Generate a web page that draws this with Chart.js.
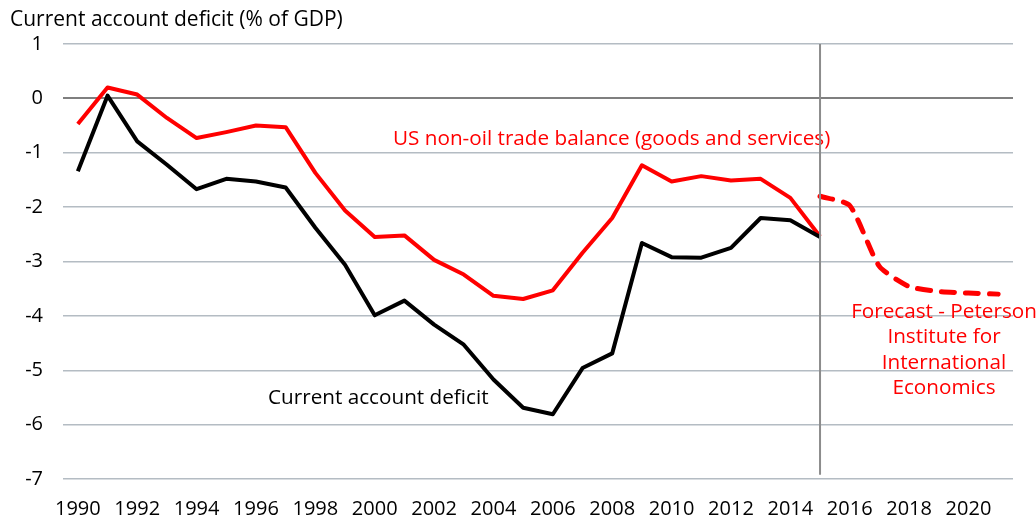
<!DOCTYPE html>
<html>
<head>
<meta charset="utf-8">
<script src="https://cdn.jsdelivr.net/npm/chart.js@4/dist/chart.umd.min.js"></script>
<style>
  html, body { margin: 0; padding: 0; background: #fff; }
  #wrap { width: 1036px; height: 517px; position: relative; }
</style>
</head>
<body>
<div id="wrap"><canvas id="chart"></canvas></div>
<script>
// DATA
const years = ['1990','1991','1992','1993','1994','1995','1996','1997','1998','1999',
  '2000','2001','2002','2003','2004','2005','2006','2007','2008','2009',
  '2010','2011','2012','2013','2014','2015','2016','2017','2018','2019','2020','2021'];

// US non-oil trade balance (goods and services), 1990-2015
const nonOilBalance = [-0.47, 0.20, 0.07, -0.36, -0.73, -0.62, -0.50, -0.53, -1.37, -2.06,
  -2.55, -2.52, -2.97, -3.24, -3.63, -3.69, -3.53, -2.84, -2.20, -1.23,
  -1.53, -1.43, -1.51, -1.48, -1.83, -2.54];

// Current account deficit, 1990-2015
const currentAccount = [-1.34, 0.05, -0.79, -1.22, -1.67, -1.48, -1.53, -1.64, -2.38, -3.06,
  -3.99, -3.72, -4.16, -4.53, -5.17, -5.69, -5.81, -4.96, -4.69, -2.66,
  -2.92, -2.93, -2.75, -2.20, -2.24, -2.55];

// Forecast (Peterson Institute), 2015-2021
const forecastYears = ['2015','2016','2017','2018','2019','2020','2021'];
const forecastValues = [-1.80, -1.97, -3.09, -3.46, -3.55, -3.58, -3.60];

// vertical marker at the start of the forecast
const markerYear = '2015';
const markerRange = [1, -6.92];

const yTicks = { min: -7, max: 1, step: 1 };

// build series on the full year axis
const pad = (arr, startIdx) => years.map((_, i) => {
  const j = i - startIdx;
  return j >= 0 && j < arr.length ? arr[j] : null;
});
const forecastSeries = pad(forecastValues, years.indexOf(forecastYears[0]));

const FONT = '"Open Sans", "Noto Sans", sans-serif';

const textPlugin = {
  id: 'texts',
  beforeDatasetsDraw(chart) {
    const ctx = chart.ctx;
    ctx.save();
    ctx.font = '20.7px ' + FONT;
    ctx.textBaseline = 'middle';
    ctx.textAlign = 'left';
    ctx.fillStyle = '#ff0000';
    ctx.fillText('US non-oil trade balance (goods and services)', 393, 139);
    ctx.fillStyle = '#000';
    ctx.fillText('Current account deficit', 268, 398);
    ctx.textAlign = 'center';
    ctx.fillStyle = '#ff0000';
    const lines = ['Forecast - Peterson', 'Institute for', 'International', 'Economics'];
    lines.forEach((l, i) => ctx.fillText(l, 944, 312 + i * 25.4));
    ctx.restore();
  },
  afterDraw(chart) {
    const ctx = chart.ctx;
    ctx.save();
    ctx.font = '21px ' + FONT;
    ctx.textBaseline = 'middle';
    ctx.textAlign = 'left';
    ctx.fillStyle = '#000';
    ctx.fillText('Current account deficit (% of GDP)', 10, 20);
    ctx.restore();
  }
};

new Chart(document.getElementById('chart').getContext('2d'), {
  type: 'line',
  data: {
    labels: years,
    datasets: [
      {
        label: 'Marker',
        data: markerRange.map(v => ({ x: markerYear, y: v })),
        borderColor: '#8c8c8c',
        borderWidth: 2,
        pointRadius: 0,
        order: 0
      },
      {
        label: 'Current account deficit',
        data: pad(currentAccount, 0),
        borderColor: '#000000',
        borderWidth: 4,
        pointRadius: 0,
        borderJoinStyle: 'round',
        order: 1
      },
      {
        label: 'US non-oil trade balance',
        data: pad(nonOilBalance, 0),
        borderColor: '#ff0000',
        borderWidth: 4,
        pointRadius: 0,
        borderJoinStyle: 'round',
        order: 2
      },
      {
        label: 'Forecast',
        data: forecastSeries,
        borderColor: '#ff0000',
        borderWidth: 5,
        borderDash: [13, 11],
        borderCapStyle: 'round',
        pointRadius: 0,
        tension: 0.2,
        order: 3
      }
    ]
  },
  options: {
    responsive: true,
    maintainAspectRatio: false,
    animation: false,
    layout: { padding: { top: 44, right: 23, left: 0, bottom: 0 } },
    plugins: {
      legend: { display: false },
      tooltip: { enabled: false },
      title: { display: false }
    },
    scales: {
      x: {
        type: 'category',
        offset: true,
        grid: { display: false, drawTicks: false },
        border: { display: false },
        afterFit: (axis) => { axis.height = 38; },
        ticks: {
          autoSkip: false,
          maxRotation: 0,
          padding: 18,
          color: '#000',
          font: { family: FONT, size: 20 },
          callback: function (val, idx) {
            return idx % 2 === 0 ? this.getLabelForValue(val) : '';
          }
        }
      },
      y: {
        min: yTicks.min,
        max: yTicks.max,
        afterFit: (axis) => { axis.width = 63; },
        border: { display: false },
        grid: {
          drawTicks: false,
          color: (c) => c.tick && c.tick.value === 0 ? '#7f7f7f' : '#b4bcc3',
          lineWidth: (c) => c.tick && c.tick.value === 0 ? 2 : 1.5
        },
        ticks: {
          stepSize: yTicks.step,
          padding: 20,
          color: '#000',
          font: { family: FONT, size: 20 }
        }
      }
    }
  },
  plugins: [textPlugin]
});
</script>
</body>
</html>
